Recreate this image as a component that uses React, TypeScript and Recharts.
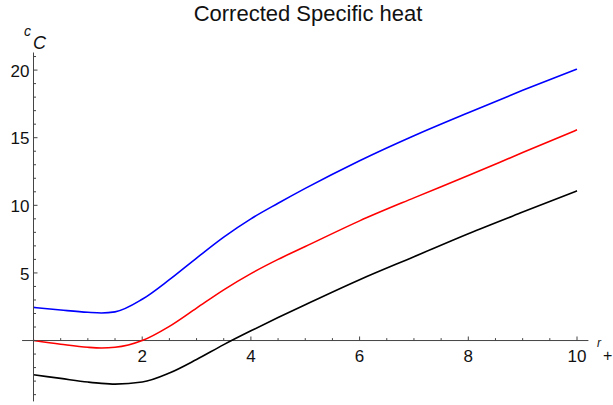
import { LineChart, Line, XAxis, YAxis, ReferenceLine, ReferenceDot } from "recharts";

// r_+ sample points
const rPlus = [0, 0.5, 1, 1.25, 1.5, 2, 2.5, 3, 3.5, 4, 4.5, 5, 6, 7, 8, 9, 10];
// corrected specific heat, three cases
const blueC = [2.45, 2.26, 2.09, 2.04, 2.12, 3.05, 4.5, 6.1, 7.65, 9.0, 10.15, 11.25, 13.3, 15.15, 16.85, 18.5, 20.07];
const redC = [0, -0.27, -0.5, -0.55, -0.5, 0, 1.05, 2.4, 3.75, 4.95, 6.0, 6.95, 8.85, 10.55, 12.2, 13.9, 15.58];
const blackC = [-2.53, -2.8, -3.07, -3.17, -3.22, -3.07, -2.4, -1.4, -0.3, 0.72, 1.7, 2.65, 4.5, 6.2, 7.9, 9.5, 11.07];

const xMajor = [2, 4, 6, 8, 10];
const xMinor = [0.5, 1, 1.5, 2.5, 3, 3.5, 4.5, 5, 5.5, 6.5, 7, 7.5, 8.5, 9, 9.5];
const yTicks = [-4, -3, -2, -1, 0, 1, 2, 3, 4, 5, 6, 7, 8, 9, 10, 11, 12, 13, 14, 15, 16, 17, 18, 19, 20, 21];

const data = rPlus.map((r, i) => ({ r, blue: blueC[i], red: redC[i], black: blackC[i] }));

const FONT = "'Liberation Sans', Arial, sans-serif";
const AXIS = "#444";
const GAP = 4;

function YTick(props: any) {
  const { x, y, payload } = props;
  const v = payload.value;
  const major = v % 5 === 0;
  const ax = x + GAP;
  return (
    <g>
      <line x1={ax} x2={ax + (major ? 4 : 2.5)} y1={y} y2={y} stroke={AXIS} strokeWidth={1} />
      {major && v !== 0 && (
        <text x={x} y={y} dy="0.4em" textAnchor="end" fontSize={17} fontFamily={FONT} fill="#111">
          {v}
        </text>
      )}
    </g>
  );
}

export default function App() {
  return (
    <div style={{ position: "absolute", left: 0, top: 0, width: 613, height: 405, background: "#fff" }}>
      <LineChart
        width={613}
        height={405}
        data={data}
        margin={{ top: 52.5, right: 36, bottom: 3.6, left: 0 }}
      >
        <XAxis type="number" dataKey="r" domain={[0, 10]} hide />
        <YAxis
          type="number"
          domain={[-4.5, 21.3]}
          ticks={yTicks}
          interval={0}
          width={33.5}
          tickSize={0}
          tickMargin={GAP}
          tickLine={false}
          axisLine={{ stroke: AXIS }}
          tick={<YTick />}
          allowDataOverflow
        />
        <ReferenceLine
          segment={[{ x: -0.21, y: 0 }, { x: 10.21, y: 0 }]}
          stroke={AXIS}
          ifOverflow="visible"
        />
        {xMajor.map((t) => (
          <ReferenceLine key={"M" + t} segment={[{ x: t, y: 0 }, { x: t, y: 0.3 }]} stroke={AXIS} ifOverflow="visible" />
        ))}
        {xMinor.map((t) => (
          <ReferenceLine key={"m" + t} segment={[{ x: t, y: 0 }, { x: t, y: 0.18 }]} stroke={AXIS} ifOverflow="visible" />
        ))}
        {xMajor.map((t) => (
          <ReferenceDot
            key={"L" + t}
            x={t}
            y={0}
            r={0}
            stroke="none"
            fill="none"
            ifOverflow="visible"
            label={{ value: t, position: "bottom", offset: 9, fontSize: 17, fontFamily: FONT, fill: "#111" }}
          />
        ))}
        <Line type="monotone" dataKey="blue" stroke="#0000ff" strokeWidth={1.6} dot={false} isAnimationActive={false} />
        <Line type="monotone" dataKey="red" stroke="#ff0000" strokeWidth={1.6} dot={false} isAnimationActive={false} />
        <Line type="monotone" dataKey="black" stroke="#000000" strokeWidth={1.6} dot={false} isAnimationActive={false} />
      </LineChart>
      <svg width={613} height={405} style={{ position: "absolute", left: 0, top: 0, pointerEvents: "none" }}>
        <text x={308} y={20.5} textAnchor="middle" fontSize={22} fontFamily={FONT} fill="#111">
          Corrected Specific heat
        </text>
        <text x={24} y={36} fontSize={14} fontStyle="italic" fontFamily={FONT} fill="#111">c</text>
        <text x={33} y={49} fontSize={18} fontStyle="italic" fontFamily={FONT} fill="#111">C</text>
        <text x={597} y={347} fontSize={12} fontStyle="italic" fontFamily={FONT} fill="#111">r</text>
        <text x={603} y={361} fontSize={16} fontFamily={FONT} fill="#111">+</text>
      </svg>
    </div>
  );
}
